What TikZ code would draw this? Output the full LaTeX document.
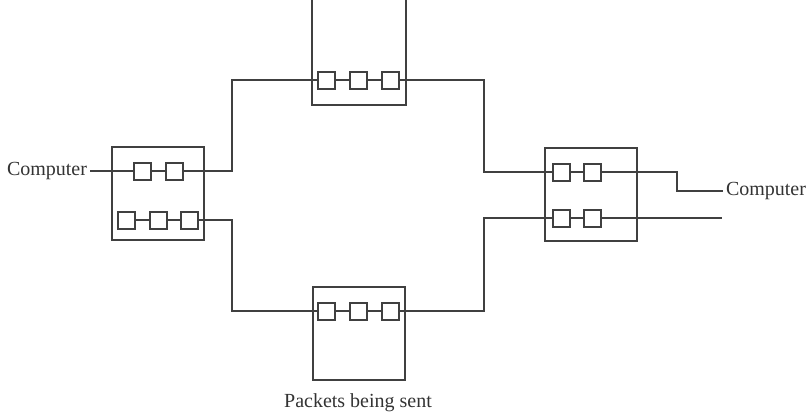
\documentclass[tikz,border=0pt]{standalone}
\usepackage{fontspec}
\setmainfont{Liberation Serif}
\begin{document}
\begin{tikzpicture}[x=0.5pt, y=-0.5pt,
    line width=1pt, draw=black!75,
    router/.style={draw=black!75, rectangle, minimum width=46pt, minimum height=46.5pt, inner sep=0pt},
    packet/.style={draw=black!75, fill=white, rectangle, minimum size=8.5pt, inner sep=0pt},
    lbl/.style={font=\fontsize{10}{11}\selectfont, text=black!80}]
        \useasboundingbox (0,0) rectangle (806,414);
        % routers
        \node[router] (L) at (158,193.5) {};
        \node[router] (R) at (591,194) {};
        \node[router] (B) at (359,333.5) {};
        \node[draw=none, minimum width=46pt, minimum height=52pt, inner sep=0pt] (T) at (359,52) {};
        \draw (T.north west) -- (T.south west) -- (T.south east) -- (T.north east);
        % packets
        \node[packet] (L1a) at (142,171) {};
        \node[packet] (L1b) at (174.5,171) {};
        \node[packet] (L2a) at (126.5,220) {};
        \node[packet] (L2b) at (158,220) {};
        \node[packet] (L2c) at (189.5,220) {};
        \node[packet] (T1) at (326,80) {};
        \node[packet] (T2) at (358.5,80) {};
        \node[packet] (T3) at (390.5,80) {};
        \node[packet] (B1) at (326,311) {};
        \node[packet] (B2) at (358.5,311) {};
        \node[packet] (B3) at (390.5,311) {};
        \node[packet] (R1a) at (561,172) {};
        \node[packet] (R1b) at (592,172) {};
        \node[packet] (R2a) at (561,218) {};
        \node[packet] (R2b) at (592,218) {};
        % labels
        \node[lbl, left, inner sep=1pt] (pcL) at (90,171) {Computer};
        \node[lbl, right, inner sep=1pt] (pcR) at (723,191) {Computer};
        \node[lbl] (sent) at (358,403) {Packets being sent};
        % turning points
        \coordinate (jTL) at (232,80);
        \coordinate (jBL) at (232,311);
        \coordinate (jTR) at (484,80);
        \coordinate (jBR) at (484,311);
        \coordinate (jR) at (677,172);
        \coordinate (endR) at (722,218);
        % links
        \draw (pcL) -- (L1a) -- (L1b);
        \draw (L2a) -- (L2b) -- (L2c);
        \draw (T1) -- (T2) -- (T3);
        \draw (B1) -- (B2) -- (B3);
        \draw (R1a) -- (R1b);
        \draw (R2a) -- (R2b);
        \draw (L1b.east) -| (jTL) -- (T1.west);
        \draw (L2c.east) -| (jBL) -- (B1.west);
        \draw (T3.east) -- (jTR) |- (R1a.west);
        \draw (B3.east) -- (jBR) |- (R2a.west);
        \draw (R1b.east) -- (jR) |- (pcR.west);
        \draw (R2b.east) -- (endR);
    \end{tikzpicture}
\end{document}
